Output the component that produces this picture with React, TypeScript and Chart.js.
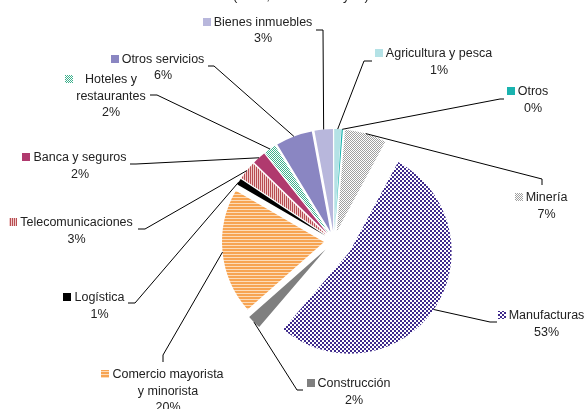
import React, { useEffect, useRef } from 'react';
import { Chart, registerables } from 'chart.js';

Chart.register(...registerables);

// ---- data ----
const CATEGORIES = [
  'Minería',
  'Manufacturas',
  'Construcción',
  'Comercio mayorista y minorista',
  'Logística',
  'Telecomunicaciones',
  'Banca y seguros',
  'Hoteles y restaurantes',
  'Otros servicios',
  'Bienes inmuebles',
  'Agricultura y pesca',
  'Otros',
];
const VALUES = [6.6, 53.4, 2.2, 19.9, 1.0, 2.9, 2.1, 1.9, 5.8, 2.9, 1.1, 0.2];
const LABEL_LINES = [
  ['Minería'],
  ['Manufacturas'],
  ['Construcción'],
  ['Comercio mayorista', 'y minorista'],
  ['Logística'],
  ['Telecomunicaciones'],
  ['Banca y seguros'],
  ['Hoteles y', 'restaurantes'],
  ['Otros servicios'],
  ['Bienes inmuebles'],
  ['Agricultura y pesca'],
  ['Otros'],
];
const TITLE = '(2013, en millones y %)';

// ---- layout / style (not data) ----
const EXPLODE = [10, 19, 12, 10, 10, 10, 10, 10, 10, 10, 10, 10];
const LABEL_LAYOUT = [
  { cx: 546.5, y: 198, stub: [[542, 185], [542, 179]] },
  { cx: 546.5, y: 316, stub: [[497, 322], [490, 322]] },
  { cx: 354, y: 384, stub: [[303, 390], [297, 390]] },
  { cx: 168, y: 375, stub: [[163, 362], [163, 355]] },
  { cx: 99.5, y: 298, stub: [[128, 303], [135, 303]] },
  { cx: 76.5, y: 223, stub: [[138, 229], [145, 229]] },
  { cx: 80, y: 158, stub: [[130, 164], [136, 164]] },
  { cx: 111, y: 80, stub: [[150, 95], [157, 95]] },
  { cx: 163, y: 59.5, stub: [[208, 66], [214, 66]] },
  { cx: 263, y: 22.5, stub: [[316, 30], [323, 30]] },
  { cx: 439, y: 54, stub: [[372, 61], [364, 61]] },
  { cx: 533, y: 92, stub: [[504, 99], [500, 99]] },
];
const LINE_H = 16.5;
const FONT = '12.5px "Liberation Sans", Arial, Helvetica, sans-serif';
const TITLE_FONT = '13px "Liberation Sans", Arial, Helvetica, sans-serif';

function makeTile(w: number, h: number, bg: string, paint: (g: CanvasRenderingContext2D) => void) {
  const c = document.createElement('canvas');
  c.width = w;
  c.height = h;
  const g = c.getContext('2d') as CanvasRenderingContext2D;
  g.fillStyle = bg;
  g.fillRect(0, 0, w, h);
  paint(g);
  return g.createPattern(c, 'repeat') as CanvasPattern;
}

function buildFills(): (string | CanvasPattern)[] {
  const mineria = makeTile(2, 2, '#ffffff', (g) => {
    g.fillStyle = '#a0a0a0';
    g.fillRect(0, 0, 1, 1);
    g.fillRect(1, 1, 1, 1);
  });
  const manuf = makeTile(4, 4, '#ffffff', (g) => {
    g.fillStyle = '#3f2a8c';
    g.fillRect(0, 0, 2, 2);
    g.fillRect(2, 2, 2, 2);
  });
  const comercio = makeTile(1, 3, '#fcdcba', (g) => {
    g.fillStyle = '#f7a452';
    g.fillRect(0, 0, 1, 2);
  });
  const telecom = makeTile(2, 1, '#f0cccc', (g) => {
    g.fillStyle = '#b84d52';
    g.fillRect(0, 0, 1, 1);
  });
  const hoteles = makeTile(4, 4, '#ffffff', (g) => {
    g.fillStyle = '#3cb08c';
    const ys = [0, 1, 2, 1];
    for (let x = 0; x < 4; x++) {
      g.fillRect(x, ys[x], 1, 1);
      g.fillRect(x, (ys[x] + 2) % 4, 1, 1);
    }
  });
  return [
    mineria,
    manuf,
    '#7f7f7f',
    comercio,
    '#000000',
    telecom,
    '#b03a6e',
    hoteles,
    '#8a86c2',
    '#b8b7dc',
    '#b4e2e6',
    '#1ab3af',
  ];
}

const explodePlugin = {
  id: 'explodeSlices',
  beforeDatasetsDraw(chart: any) {
    const meta = chart.getDatasetMeta(0);
    const { left, right, top, bottom } = chart.chartArea;
    const cx = (left + right) / 2;
    const cy = (top + bottom) / 2;
    meta.data.forEach((el: any, i: number) => {
      const mid = (el.startAngle + el.endAngle) / 2;
      el.x = cx + Math.cos(mid) * EXPLODE[i];
      el.y = cy + Math.sin(mid) * EXPLODE[i];
    });
  },
};

function makeLabelPlugin(fills: (string | CanvasPattern)[]) {
  return {
    id: 'outsideLabels',
    afterDatasetsDraw(chart: any) {
      const ctx: CanvasRenderingContext2D = chart.ctx;
      const meta = chart.getDatasetMeta(0);
      const total = VALUES.reduce((a, b) => a + b, 0);
      ctx.save();
      // title (mostly cropped at top)
      ctx.font = TITLE_FONT;
      ctx.fillStyle = '#222';
      ctx.textAlign = 'center';
      ctx.textBaseline = 'alphabetic';
      ctx.fillText(TITLE, 301, -0.5);

      ctx.font = FONT;
      meta.data.forEach((el: any, i: number) => {
        const lay = LABEL_LAYOUT[i];
        const mid = (el.startAngle + el.endAngle) / 2;
        const px = el.x + Math.cos(mid) * el.outerRadius;
        const py = el.y + Math.sin(mid) * el.outerRadius;
        // leader line
        ctx.strokeStyle = '#000';
        ctx.lineWidth = 1;
        ctx.beginPath();
        ctx.moveTo(lay.stub[0][0], lay.stub[0][1]);
        ctx.lineTo(lay.stub[1][0], lay.stub[1][1]);
        ctx.lineTo(px, py);
        ctx.stroke();

        // text
        const lines = [...LABEL_LINES[i], Math.round((VALUES[i] / total) * 100) + '%'];
        const nameLines = LABEL_LINES[i];
        const maxW = Math.max(...nameLines.map((t) => ctx.measureText(t).width));
        ctx.fillStyle = '#222';
        ctx.textAlign = 'center';
        ctx.textBaseline = 'middle';
        lines.forEach((t, k) => ctx.fillText(t, lay.cx, lay.y + k * LINE_H));
        // legend key
        const sx = Math.round(lay.cx - maxW / 2 - 3 - 8);
        const sy = Math.round(lay.y - 5);
        ctx.fillStyle = fills[i] as any;
        ctx.fillRect(sx, sy, 8, 8);
      });
      ctx.restore();
    },
  };
}

export default function App() {
  const ref = useRef<HTMLCanvasElement | null>(null);
  useEffect(() => {
    if (!ref.current) return;
    const fills = buildFills();
    const chart = new Chart(ref.current, {
      type: 'pie',
      data: {
        labels: CATEGORIES,
        datasets: [
          {
            data: VALUES,
            backgroundColor: fills as any,
            borderWidth: 0,
          },
        ],
      },
      options: {
        responsive: false,
        animation: false,
        events: [],
        radius: 102,
        rotation: 4.6,
        layout: { padding: { left: 113, right: 30, top: 83, bottom: 10 } },
        plugins: {
          legend: { display: false },
          tooltip: { enabled: false },
          title: { display: false },
        },
      } as any,
      plugins: [explodePlugin, makeLabelPlugin(fills)],
    });
    return () => chart.destroy();
  }, []);
  return (
    <div style={{ position: 'fixed', left: 0, top: 0, width: 585, height: 409, background: '#fff' }}>
      <canvas ref={ref} width={585} height={409} style={{ display: 'block' }} />
    </div>
  );
}
